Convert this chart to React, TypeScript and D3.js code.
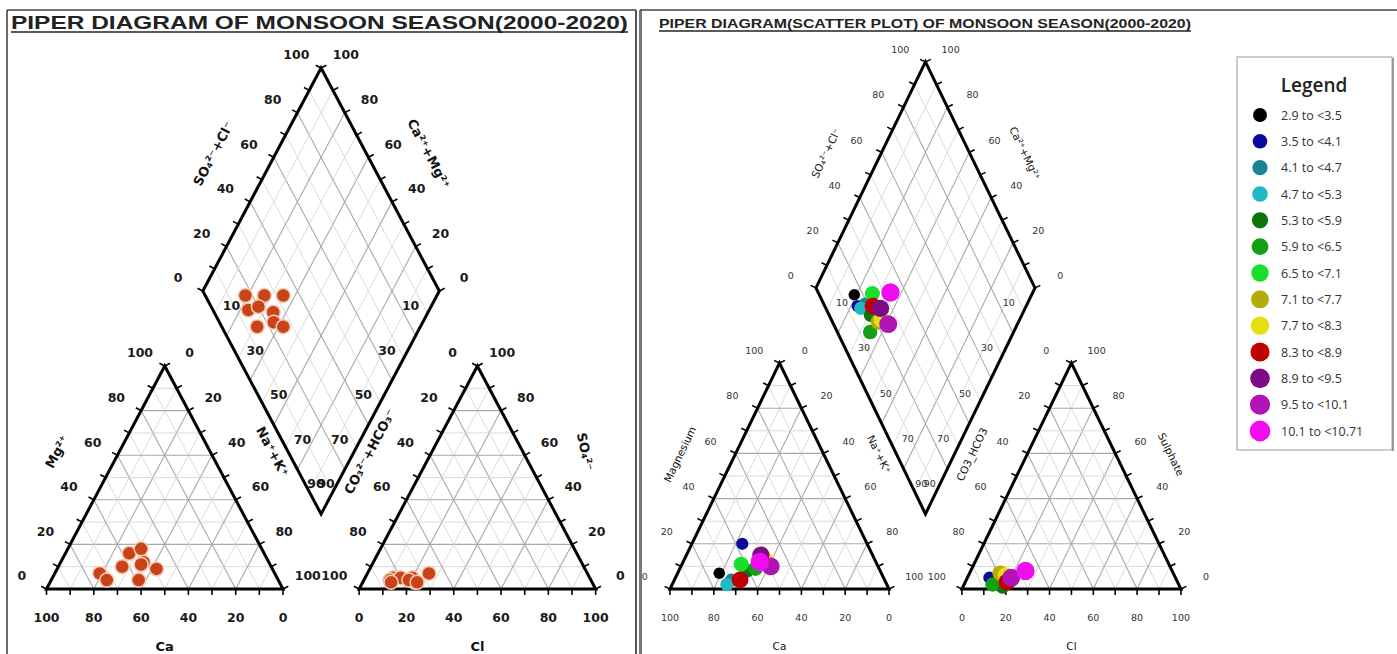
import React from 'react';
import * as d3 from 'd3';

const W = 1397;
const H = 654;

// ---------- DATA ----------
// Left panel: Piper composition (% meq) of monsoon samples
const leftMg = [7, 10, 12, 4, 16, 11, 4, 9, 18];
const leftNaK = [19, 27, 35, 23.5, 27, 34.5, 37, 42, 31];
const leftSO4 = [5, 3, 7, 4, 5, 5, 4, 3, 3];
const leftCl = [12, 22, 26, 11, 15, 20, 19, 23, 12];

// Right panel: samples coloured by class
const rightClass = [0, 1, 2, 3, 4, 5, 6, 7, 8, 9, 10, 11, 12];
const rightMg = [7, 20, 4, 2, 8, 9, 11, 12, 13, 4, 15, 10, 12];
const rightNaK = [19, 23, 26, 25, 31, 34.5, 27, 36, 37, 30, 34, 41, 35];
const rightSO4 = [4, 5, 3, 2, 1, 2, 4, 7, 6, 3, 5, 5, 8];
const rightCl = [12, 10, 16, 14, 18, 13, 20.5, 14, 17, 19, 20, 20, 25];

const legendLabels = [
  '2.9 to <3.5', '3.5 to <4.1', '4.1 to <4.7', '4.7 to <5.3', '5.3 to <5.9',
  '5.9 to <6.5', '6.5 to <7.1', '7.1 to <7.7', '7.7 to <8.3', '8.3 to <8.9',
  '8.9 to <9.5', '9.5 to <10.1', '10.1 to <10.71',
];
const legendColors = [
  '#000000', '#0a0a9a', '#1a8496', '#22b8c4', '#0c760c', '#14a014', '#16e02c',
  '#b4ac06', '#e6e012', '#c00000', '#7e0a86', '#b014b4', '#f00cf0',
];

const tickValues = [0, 20, 40, 60, 80, 100];
const minorTicks = d3.range(0, 101, 10);
const diamondLowerLabels = [10, 30, 50, 70, 90];

// ---------- GEOMETRY ----------
type Pt = [number, number];
function makeGeom(x0: number, xu: number, y0: number, yu: number, gx: number, gy: number) {
  const sx = d3.scaleLinear().domain([0, 1]).range([x0, x0 + xu]);
  const sy = d3.scaleLinear().domain([0, 1]).range([y0, y0 - yu]);
  const P = (u: number, v: number): Pt => [sx(u), sy(v)];
  const cat = (mg: number, nak: number): Pt => P(nak + mg / 2, mg);
  const an = (so4: number, cl: number): Pt => P(1 + gx + cl + so4 / 2, so4);
  const dia = (a: number, c: number): Pt => P(1 + gx / 2 + 0.5 * (a - c), gy + a + c);
  return { P, cat, an, dia };
}

const line = d3.line<Pt>();

function normalOut(A: Pt, B: Pt, C: Pt): Pt {
  const dx = B[0] - A[0], dy = B[1] - A[1];
  const len = Math.hypot(dx, dy);
  let n: Pt = [-dy / len, dx / len];
  const mx = (A[0] + B[0]) / 2, my = (A[1] + B[1]) / 2;
  if ((C[0] - mx) * n[0] + (C[1] - my) * n[1] > 0) n = [-n[0], -n[1]];
  return n;
}

type Panel = {
  g: ReturnType<typeof makeGeom>;
  tickFont: string; tickSize: number; tickWeight: string; tickFill: string;
  labOff: number; titleOff: number;
  titleFont: string; titleSize: number; titleWeight: string;
  titles: { mg: string; nak: string; ca: string; hco3: string; so4: string; cl: string; dl: string; dr: string };
  so4Rot?: number;
  lowerOff: number;
};

function Diagram({ p }: { p: Panel }) {
  const { cat, an, dia } = p.g;
  const els: React.ReactNode[] = [];
  let key = 0;
  const k = () => key++;

  const gridStyle = (v: number) => (v % 20 === 0
    ? { stroke: '#a9a9a9', strokeWidth: 1.1 }
    : { stroke: '#d6d6d6', strokeWidth: 0.9 });

  for (const v of d3.range(10, 100, 10)) {
    const f = v / 100;
    const st = gridStyle(v);
    els.push(<path key={k()} d={line([cat(f, 0), cat(f, 1 - f)])!} {...st} fill="none" />);
    els.push(<path key={k()} d={line([cat(0, 1 - f), cat(1 - f, 0)])!} {...st} fill="none" />);
    els.push(<path key={k()} d={line([cat(0, f), cat(1 - f, f)])!} {...st} fill="none" />);
    els.push(<path key={k()} d={line([an(f, 0), an(f, 1 - f)])!} {...st} fill="none" />);
    els.push(<path key={k()} d={line([an(0, 1 - f), an(1 - f, 0)])!} {...st} fill="none" />);
    els.push(<path key={k()} d={line([an(0, f), an(1 - f, f)])!} {...st} fill="none" />);
    els.push(<path key={k()} d={line([dia(f, 0), dia(f, 1)])!} {...st} fill="none" />);
    els.push(<path key={k()} d={line([dia(0, f), dia(1, f)])!} {...st} fill="none" />);
  }

  const cBL = cat(0, 0), cBR = cat(0, 1), cTop = cat(1, 0);
  const aBL = an(0, 0), aBR = an(0, 1), aTop = an(1, 0);
  const dL = dia(0, 1), dB = dia(0, 0), dR = dia(1, 0), dT = dia(1, 1);
  const cCent: Pt = [(cBL[0] + cBR[0] + cTop[0]) / 3, (cBL[1] + cBR[1] + cTop[1]) / 3];
  const aCent: Pt = [(aBL[0] + aBR[0] + aTop[0]) / 3, (aBL[1] + aBR[1] + aTop[1]) / 3];
  const dCent: Pt = [(dL[0] + dR[0]) / 2, (dT[1] + dB[1]) / 2];

  const outline = { stroke: '#000', strokeWidth: 3, fill: 'none', strokeLinejoin: 'miter' as const };
  els.push(<path key={k()} d={line([cBL, cTop, cBR])! + 'Z'} {...outline} />);
  els.push(<path key={k()} d={line([aBL, aTop, aBR])! + 'Z'} {...outline} />);
  els.push(<path key={k()} d={line([dL, dT, dR, dB])! + 'Z'} {...outline} />);

  type Ax = { pt: (f: number) => Pt; A: Pt; B: Pt; C: Pt; lab: (v: number) => number };
  const axes: Ax[] = [
    { pt: (f) => cat(0, f), A: cBL, B: cBR, C: cCent, lab: (v) => 100 - v },
    { pt: (f) => cat(f, 0), A: cBL, B: cTop, C: cCent, lab: (v) => v },
    { pt: (f) => cat(f, 1 - f), A: cBR, B: cTop, C: cCent, lab: (v) => 100 - v },
    { pt: (f) => an(0, f), A: aBL, B: aBR, C: aCent, lab: (v) => v },
    { pt: (f) => an(f, 0), A: aBL, B: aTop, C: aCent, lab: (v) => 100 - v },
    { pt: (f) => an(f, 1 - f), A: aBR, B: aTop, C: aCent, lab: (v) => v },
    { pt: (f) => dia(f, 1), A: dL, B: dT, C: dCent, lab: (v) => v },
    { pt: (f) => dia(1, f), A: dR, B: dT, C: dCent, lab: (v) => v },
  ];
  for (const ax of axes) {
    const n = normalOut(ax.A, ax.B, ax.C);
    for (const v of minorTicks) {
      const q = ax.pt(v / 100);
      els.push(<line key={k()} x1={q[0] - n[0]} y1={q[1] - n[1]} x2={q[0] + n[0] * 6} y2={q[1] + n[1] * 6} stroke="#000" strokeWidth={1.6} />);
    }
    for (const v of tickValues) {
      const q = ax.pt(v / 100);
      els.push(
        <text key={k()} x={q[0] + n[0] * p.labOff} y={q[1] + n[1] * p.labOff} textAnchor="middle" dominantBaseline="central"
          fontFamily={p.tickFont} fontSize={p.tickSize} fontWeight={p.tickWeight} fill={p.tickFill}>{ax.lab(v)}</text>,
      );
    }
  }
  for (const v of diamondLowerLabels) {
    const f = v / 100 - 0.035;
    const ql = dia(0, 1 - f);
    const qr = dia(1 - f, 0);
    els.push(<text key={k()} x={ql[0] + p.lowerOff} y={ql[1]} textAnchor="middle" dominantBaseline="central"
      fontFamily={p.tickFont} fontSize={p.tickSize} fontWeight={p.tickWeight} fill={p.tickFill}>{v}</text>);
    els.push(<text key={k()} x={qr[0] - p.lowerOff} y={qr[1]} textAnchor="middle" dominantBaseline="central"
      fontFamily={p.tickFont} fontSize={p.tickSize} fontWeight={p.tickWeight} fill={p.tickFill}>{v}</text>);
  }

  const titleAt = (A: Pt, B: Pt, C: Pt, text: string, rot?: number) => {
    const n = normalOut(A, B, C);
    const m: Pt = [(A[0] + B[0]) / 2 + n[0] * p.titleOff, (A[1] + B[1]) / 2 + n[1] * p.titleOff];
    let ang = Math.atan2(B[1] - A[1], B[0] - A[0]) * 180 / Math.PI;
    if (ang > 90) ang -= 180;
    if (ang < -90) ang += 180;
    if (rot !== undefined) ang = rot;
    return (
      <text key={k()} transform={`translate(${m[0]},${m[1]}) rotate(${ang})`} textAnchor="middle" dominantBaseline="central"
        fontFamily={p.titleFont} fontSize={p.titleSize} fontWeight={p.titleWeight} fill="#111">{text}</text>
    );
  };
  els.push(titleAt(cBL, cTop, cCent, p.titles.mg));
  els.push(titleAt(cTop, cBR, cCent, p.titles.nak));
  els.push(titleAt(aBL, aTop, aCent, p.titles.hco3));
  els.push(titleAt(aTop, aBR, aCent, p.titles.so4, p.so4Rot));
  els.push(titleAt(dL, dT, dCent, p.titles.dl));
  els.push(titleAt(dT, dR, dCent, p.titles.dr));
  const cb: Pt = [(cBL[0] + cBR[0]) / 2, cBL[1] + 57];
  const ab: Pt = [(aBL[0] + aBR[0]) / 2, aBL[1] + 57];
  els.push(<text key={k()} x={cb[0]} y={cb[1]} textAnchor="middle" dominantBaseline="central" fontFamily={p.titleFont} fontSize={p.titleSize} fontWeight={p.titleWeight} fill="#111">{p.titles.ca}</text>);
  els.push(<text key={k()} x={ab[0]} y={ab[1]} textAnchor="middle" dominantBaseline="central" fontFamily={p.titleFont} fontSize={p.titleSize} fontWeight={p.titleWeight} fill="#111">{p.titles.cl}</text>);

  return <g>{els}</g>;
}

const leftGeom = makeGeom(46.5, 236.5, 589, 223, 0.322, 0.336);
const rightGeom = makeGeom(670, 219, 589, 226, 0.333, 0.332);

const leftPanel: Panel = {
  g: leftGeom,
  tickFont: 'DejaVu Sans', tickSize: 12.5, tickWeight: 'bold', tickFill: '#1a1a1a',
  labOff: 28, titleOff: 55,
  titleFont: 'DejaVu Sans', titleSize: 13, titleWeight: 'bold',
  titles: { mg: 'Mg²⁺', nak: 'Na⁺+K⁺', ca: 'Ca', hco3: 'CO₃²⁻+HCO₃⁻', so4: 'SO₄²⁻', cl: 'Cl', dl: 'SO₄²⁻+Cl⁻', dr: 'Ca²⁺+Mg²⁺' },
  so4Rot: 78,
  lowerOff: 21,
};
const rightPanel: Panel = {
  g: rightGeom,
  tickFont: 'DejaVu Sans', tickSize: 9.5, tickWeight: 'normal', tickFill: '#333',
  labOff: 28, titleOff: 50,
  titleFont: 'DejaVu Sans', titleSize: 10.5, titleWeight: 'normal',
  titles: { mg: 'Magnesium', nak: 'Na⁺+K⁺', ca: 'Ca', hco3: 'CO3_HCO3', so4: 'Sulphate', cl: 'Cl', dl: 'SO₄²⁻+Cl⁻', dr: 'Ca²⁺+Mg²⁺' },
  lowerOff: 19,
};

const radius = d3.scaleLinear().domain([0, 12]).range([5.8, 9.2]);

export default function App() {
  const lg = leftGeom;
  const rg = rightGeom;
  const leftPts: Pt[] = [];
  for (const i of d3.range(leftMg.length)) {
    const mg = leftMg[i] / 100, nak = leftNaK[i] / 100, so4 = leftSO4[i] / 100, cl = leftCl[i] / 100;
    leftPts.push(lg.cat(mg, nak), lg.an(so4, cl), lg.dia(so4 + cl, 1 - nak));
  }
  const rightPts: { p: Pt; c: number }[] = [];
  for (const i of d3.range(rightMg.length)) {
    const mg = rightMg[i] / 100, nak = rightNaK[i] / 100, so4 = rightSO4[i] / 100, cl = rightCl[i] / 100;
    const c = rightClass[i];
    rightPts.push({ p: rg.cat(mg, nak), c }, { p: rg.an(so4, cl), c }, { p: rg.dia(so4 + cl, 1 - nak), c });
  }
  const legY = d3.scaleLinear().domain([0, 12]).range([115, 431]);

  return (
    <svg width={W} height={H} style={{ position: 'absolute', left: 0, top: 0, background: '#fff' }}>
      <rect x={0} y={0} width={W} height={H} fill="#fff" />
      <line x1={7} y1={10} x2={636} y2={10} stroke="#444" strokeWidth={1.6} />
      <line x1={7} y1={10} x2={7} y2={H} stroke="#444" strokeWidth={1.6} />
      <line x1={636} y1={10} x2={636} y2={H} stroke="#555" strokeWidth={2} />
      <line x1={640.5} y1={10} x2={640.5} y2={H} stroke="#777" strokeWidth={3} />
      <line x1={640} y1={10} x2={W} y2={10} stroke="#444" strokeWidth={1.6} />

      <text x={11} y={29} fontFamily="Liberation Sans" fontWeight="bold" fontSize={19} fill="#222" textLength={617} lengthAdjust="spacingAndGlyphs">PIPER DIAGRAM OF MONSOON SEASON(2000-2020)</text>
      <line x1={11} y1={32} x2={628} y2={32} stroke="#222" strokeWidth={1.6} />
      <text x={659} y={28} fontFamily="Liberation Sans" fontWeight="bold" fontSize={12.5} fill="#222" textLength={532} lengthAdjust="spacingAndGlyphs">PIPER DIAGRAM(SCATTER PLOT) OF MONSOON SEASON(2000-2020)</text>
      <line x1={659} y1={31} x2={1191} y2={31} stroke="#222" strokeWidth={1.3} />

      <Diagram p={leftPanel} />
      <Diagram p={rightPanel} />

      {leftPts.map((q, i) => (
        <circle key={'l' + i} cx={q[0]} cy={q[1]} r={7} fill="#c8421a" stroke="#f6cdb4" strokeWidth={1.5} />
      ))}
      {rightPts.map((d, i) => (
        <circle key={'r' + i} cx={d.p[0]} cy={d.p[1]} r={radius(d.c)} fill={legendColors[d.c]} />
      ))}

      <rect x={1237} y={57} width={155} height={393} fill="#fff" stroke="#bdbdbd" strokeWidth={1.5} />
      <line x1={1393} y1={58} x2={1393} y2={451} stroke="#999" strokeWidth={2} />
      <text x={1314} y={92} textAnchor="middle" fontFamily="Open Sans" fontWeight={600} fontSize={19} fill="#222">Legend</text>
      {legendLabels.map((lab, i) => (
        <g key={'lg' + i}>
          <circle cx={1260} cy={legY(i)} r={radius(i) + 1.2} fill={legendColors[i]} />
          <text x={1281} y={legY(i)} dominantBaseline="central" fontFamily="Open Sans" fontSize={12.5} fill="#333">{lab}</text>
        </g>
      ))}
    </svg>
  );
}
